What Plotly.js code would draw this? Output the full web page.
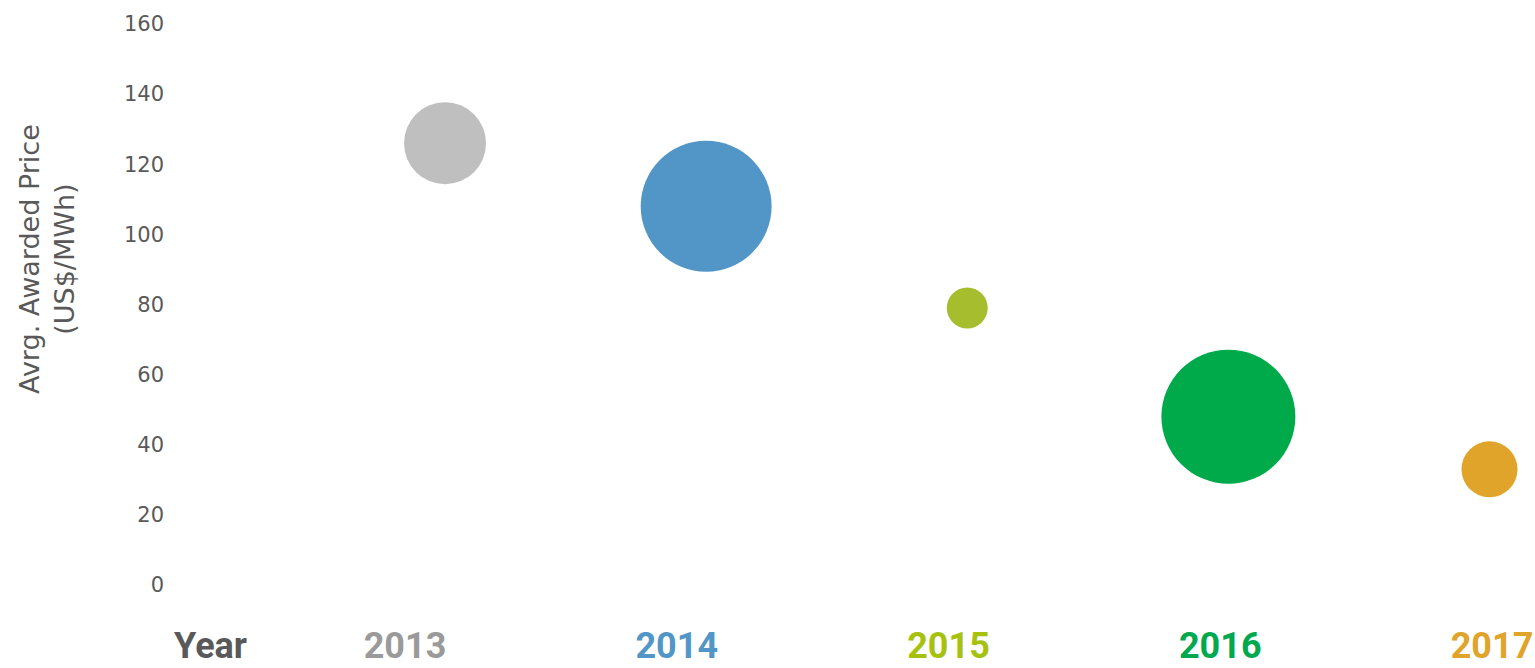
<!DOCTYPE html>
<html>
<head>
<meta charset="utf-8">
<script src="https://cdn.plot.ly/plotly-3.0.1.min.js"></script>
<style>html,body{margin:0;padding:0;background:#fff;}#chart{width:1535px;height:668px;}</style>
</head>
<body>
<div id="chart"></div>
<script>
const years = [2013, 2014, 2015, 2016, 2017];
const avgPrice = [126, 108, 79, 48, 33];          // US$/MWh
const capacity = [1440, 3670, 360, 3845, 672];     // bubble size (relative)
const bubbleColors = ['#BFBFBF', '#5296C7', '#A6BE2E', '#00A94A', '#E0A42B'];
const labelColors = ['#9A9A9A', '#5296C7', '#A6C20F', '#00A84F', '#E0A42B'];
const yTicks = [0, 20, 40, 60, 80, 100, 120, 140, 160];

const labelFont = 'Roboto, "Liberation Sans", sans-serif';
const L = 165, T = 24, B = 621, W = 1370, H = B - T;

const trace = {
  type: 'scatter', mode: 'markers',
  x: years, y: avgPrice,
  xaxis: 'x', yaxis: 'y',
  marker: {
    size: capacity, sizemode: 'area', sizeref: 0.4284,
    color: bubbleColors, opacity: 1, line: {width: 0}
  },
  hoverinfo: 'x+y', showlegend: false, cliponaxis: false
};
// invisible trace to activate label axis
const labelTrace = {
  type: 'scatter', mode: 'markers', x: years, y: avgPrice,
  xaxis: 'x2', yaxis: 'y', marker: {opacity: 0}, hoverinfo: 'skip', showlegend: false
};

const layout = {
  width: 1535, height: 668,
  margin: {l: L, r: 0, t: T, b: 668 - B},
  paper_bgcolor: '#ffffff', plot_bgcolor: '#ffffff',
  font: {family: '"DejaVu Sans", sans-serif', color: '#595959'},
  xaxis: {
    range: [2011.9276, 2017.1743], showticklabels: false, showgrid: false,
    zeroline: false, showline: false, ticks: ''
  },
  xaxis2: {
    overlaying: 'x', side: 'bottom', anchor: 'y',
    range: [2012.1168, 2017.1582], tickmode: 'array', tickvals: years,
    ticktext: years.map((y, i) => '<b><span style="color:' + labelColors[i] + '">' + y + '</span></b>'),
    tickfont: {family: labelFont, size: 36, color: '#595959'},
    showgrid: false, zeroline: false, showline: false, ticks: ''
  },
  yaxis: {
    range: [-10.27, 160], tickmode: 'array', tickvals: yTicks,
    tickfont: {size: 21, color: '#595959'},
    showgrid: false, zeroline: false, showline: false, ticks: ''
  },
  annotations: [{
    text: '<b>Year</b>', xref: 'paper', yref: 'paper', x: (210 - L) / W, y: -25 / H,
    xanchor: 'center', yanchor: 'middle', showarrow: false,
    font: {family: labelFont, size: 36, color: '#595959'}
  }, {
    text: 'Avrg. Awarded Price<br>(US$/MWh)', xref: 'paper', yref: 'paper',
    x: (47 - L) / W, y: (B - 259) / H, xanchor: 'center', yanchor: 'middle',
    textangle: -90, showarrow: false,
    font: {size: 27, color: '#595959'}
  }]
};

Plotly.newPlot('chart', [trace, labelTrace], layout, {displayModeBar: false, responsive: false});
</script>
</body>
</html>
